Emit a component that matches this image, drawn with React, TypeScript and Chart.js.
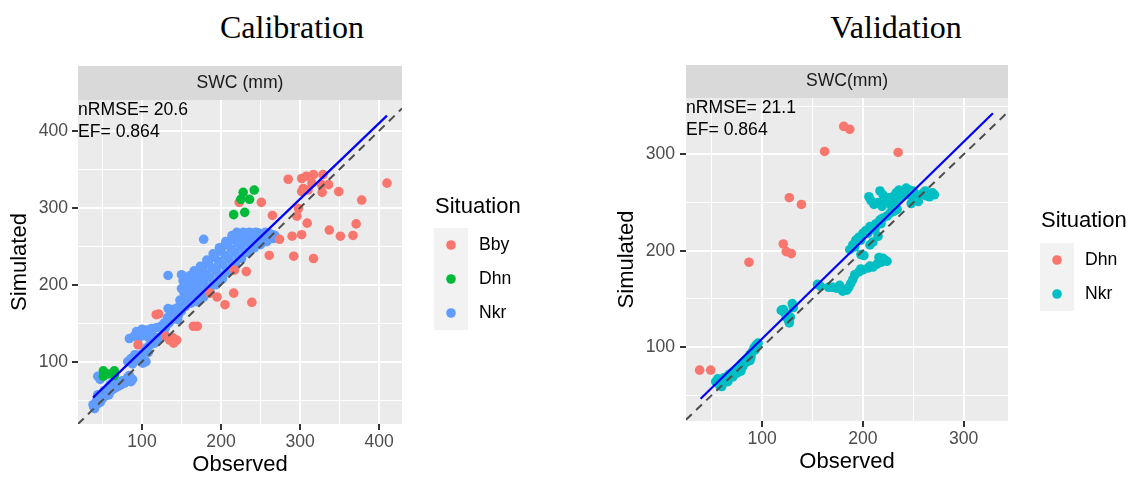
import { useEffect, useRef } from "react";
import { Chart, registerables } from "chart.js";

Chart.register(...registerables);

const SANS = "'Liberation Sans', Arial, Helvetica, sans-serif";
const SERIF = "'Liberation Serif', 'Times New Roman', serif";

type Pt = [number, number];

// ---------- Calibration: observed vs simulated SWC (mm) ----------
const calBby: Pt[] = [
  [285, 337], [302, 338], [308, 341], [317, 343], [315, 332], [304, 325], [310, 323],
  [329, 343], [327, 330], [336, 330], [302, 321], [328, 320], [349, 321], [378, 310],
  [410, 332], [251, 307], [223, 307], [265, 290], [298, 299], [296, 289], [309, 280],
  [337, 271], [371, 279], [351, 263], [367, 264], [302, 265], [290, 263], [274, 259],
  [261, 238], [292, 237], [317, 234], [232, 217], [217, 219], [186, 189], [195, 184],
  [216, 189], [205, 174], [239, 177], [118, 161], [121, 162], [165, 146], [170, 146],
  [135, 128], [140, 124], [144, 128], [139, 131], [95, 122], [130, 133],
];

const calDhn: Pt[] = [
  [216, 291], [230, 294], [225, 311], [228, 320], [236, 311], [242, 323],
  [51, 88], [65, 88], [51, 81], [65, 82], [57, 84],
];

const calNkr: Pt[] = [
  // low range
  [40, 39], [38, 44], [42, 48], [45, 52], [48, 50], [44, 57], [50, 55], [53, 59], [56, 61],
  [58, 57], [61, 63], [64, 66], [62, 72], [67, 69], [70, 68], [73, 70], [76, 74], [78, 72],
  [82, 80], [86, 74], [84, 78], [44, 81], [47, 77],
  [39, 41], [43, 45], [47, 47], [50, 52], [55, 56], [59, 60], [63, 64], [66, 66], [69, 70],
  [72, 72], [75, 75], [80, 76], [84, 82], [88, 77], [52, 62], [57, 66], [60, 70], [64, 73],
  [82, 100], [88, 97], [95, 102], [101, 98], [105, 100], [91, 109], [97, 109], [103, 113],
  [106, 118], [110, 122], [116, 124], [120, 128], [86, 104], [100, 104], [108, 112],
  [84, 130], [90, 133], [96, 131], [102, 134], [108, 132], [114, 133], [120, 131], [126, 134],
  [128, 137], [93, 139], [100, 142], [106, 141], [112, 143], [118, 144], [124, 146], [130, 145],
  [134, 150], [137, 154], [141, 156], [146, 160], [150, 166], [144, 164], [136, 160], [140, 168],
  [133, 169], [150, 167], [155, 172], [158, 176], [128, 150], [132, 157], [145, 155],
  // scattered
  [133, 212], [150, 213], [178, 259],
  // main band
  [145, 170], [155, 174], [162, 176], [170, 178], [178, 184], [186, 192], [194, 200], [202, 208],
  [210, 218], [218, 226], [226, 234], [234, 242], [242, 248], [250, 252], [258, 256], [266, 260],
  [152, 176], [159, 181], [166, 186], [174, 190], [182, 196], [190, 202], [198, 210], [206, 216],
  [214, 226], [222, 234], [230, 242], [238, 250], [246, 255], [254, 258], [262, 262],
  [148, 180], [155, 186], [162, 192], [170, 198], [178, 204], [186, 210], [194, 218], [202, 226],
  [210, 234], [218, 242], [226, 250], [234, 256], [242, 260], [250, 262], [258, 264], [266, 265],
  [153, 190], [159, 195], [166, 200], [173, 207], [181, 214], [189, 222], [197, 230], [205, 238],
  [213, 246], [221, 254], [229, 260], [237, 262], [245, 263],
  [150, 195], [156, 200], [163, 207], [170, 214], [177, 220], [184, 228], [191, 236], [198, 244],
  [205, 252], [212, 258], [218, 262], [226, 265], [234, 266], [242, 266], [250, 265],
  [155, 205], [161, 212], [168, 217], [176, 223], [184, 230], [192, 238], [200, 246], [208, 253],
  [216, 262], [224, 266], [232, 267], [240, 267], [248, 267], [254, 266], [260, 264],
  [152, 205], [158, 210], [166, 218], [174, 224], [182, 232], [190, 240], [198, 248], [206, 256],
  [214, 264], [220, 268], [228, 268], [236, 268], [244, 268], [256, 268], [262, 266], [268, 264],
  [264, 262],
];

const calFit = { slope: 0.985, intercept: 15.8, from: 38, to: 410 };
const calXRange: Pt = [19, 429];
const calYRange: Pt = [19, 440];
const calXTicks = [100, 200, 300, 400];
const calYTicks = [100, 200, 300, 400];
const calStats = ["nRMSE= 20.6", "EF= 0.864"];

// ---------- Validation ----------
const valDhn: Pt[] = [
  [38, 76], [49, 76], [87, 188], [121, 207], [124, 199], [129, 197], [127, 255],
  [139, 248], [162, 303], [181, 329], [187, 326], [235, 302],
];

const valNkr: Pt[] = [
  [54, 64], [56, 67], [58, 60], [60, 63], [62, 68], [64, 66], [66, 70], [68, 72], [70, 73],
  [72, 75], [74, 76], [76, 78], [78, 80], [80, 83], [82, 85], [84, 87], [86, 89], [88, 92],
  [90, 95], [92, 99], [94, 102], [96, 104], [60, 59], [75, 73], [84, 84],
  [57, 63], [61, 65], [65, 68], [69, 71], [73, 73], [77, 77], [81, 80], [85, 85], [89, 90],
  [93, 97], [66, 64], [71, 69], [79, 75], [88, 86],
  [119, 138], [122, 136], [124, 131], [126, 128], [127, 125], [130, 145], [131, 141], [128, 131],
  [125, 134], [121, 139],
  [155, 165], [158, 163], [170, 162], [174, 161], [177, 164], [180, 158], [184, 159], [186, 162],
  [190, 170], [192, 175], [196, 178], [200, 180], [205, 182], [210, 183], [214, 186], [218, 188],
  [222, 190], [216, 193], [220, 192], [224, 189], [166, 162], [188, 166], [198, 181], [207, 184],
  [187, 201], [190, 206], [193, 211], [196, 214], [200, 218], [203, 221], [207, 225], [210, 209],
  [213, 228], [215, 215], [217, 232], [220, 234], [224, 236], [227, 239], [231, 241], [234, 243],
  [207, 206], [198, 196], [201, 195], [192, 204], [198, 211], [205, 218], [212, 222], [218, 228],
  [206, 256], [208, 252], [211, 248], [215, 250], [217, 262], [220, 258], [223, 252], [226, 255],
  [230, 256], [233, 260], [236, 263], [239, 261], [243, 265], [246, 263], [248, 249], [250, 262],
  [253, 254], [255, 251], [257, 258], [260, 260], [263, 257], [266, 256], [269, 260], [271, 258],
  [245, 258], [238, 255], [228, 247], [219, 246], [233, 252], [241, 258], [251, 257], [262, 262],
];

const valFit = { slope: 1.022, intercept: 6.5, from: 39, to: 329 };
const valXRange: Pt = [24.5, 344];
const valYRange: Pt = [23.2, 358.5];
const valXTicks = [100, 200, 300];
const valYTicks = [100, 200, 300];
const valStats = ["nRMSE= 21.1", "EF= 0.864"];

const COLORS = {
  red: "#F8766D",
  green: "#00BA38",
  blue: "#619CFF",
  cyan: "#00BFC4",
};

const POINT_R = 4.8;

const toXY = (pts: Pt[]) => pts.map(([x, y]) => ({ x, y }));
const fitLine = (f: { slope: number; intercept: number; from: number; to: number }) => [
  { x: f.from, y: f.intercept + f.slope * f.from },
  { x: f.to, y: f.intercept + f.slope * f.to },
];

// Panel background, facet strip, stats text and "Situation" legend
const panelDecor = {
  id: "panelDecor",
  beforeDraw(chart: any, _args: any, o: any) {
    const { ctx, chartArea: a } = chart;
    ctx.save();
    ctx.fillStyle = "#EBEBEB";
    ctx.fillRect(a.left, a.top, a.right - a.left, a.bottom - a.top);
    ctx.fillStyle = "#D9D9D9";
    ctx.fillRect(a.left, a.top - o.stripHeight, a.right - a.left, o.stripHeight);
    ctx.fillStyle = "#1A1A1A";
    ctx.font = `17.6px ${SANS}`;
    ctx.textAlign = "center";
    ctx.textBaseline = "middle";
    ctx.fillText(o.strip, (a.left + a.right) / 2, a.top - o.stripHeight / 2);

    // legend
    const lx = a.right + o.legendGap;
    ctx.fillStyle = "#000000";
    ctx.font = `22px ${SANS}`;
    ctx.textAlign = "left";
    ctx.fillText(o.legendTitle, lx + 1, a.top + o.legendTitleY);
    const keyTop = a.top + o.legendKeysY;
    const key = 34;
    ctx.fillStyle = "#F2F2F2";
    ctx.fillRect(lx, keyTop, key, key * o.legendItems.length);
    o.legendItems.forEach((it: { label: string; color: string }, i: number) => {
      const cy = keyTop + key * i + key / 2;
      ctx.fillStyle = it.color;
      ctx.beginPath();
      ctx.arc(lx + key / 2, cy, POINT_R, 0, Math.PI * 2);
      ctx.fill();
      ctx.fillStyle = "#000000";
      ctx.font = `17.6px ${SANS}`;
      ctx.fillText(it.label, lx + key + 11, cy);
    });
    ctx.restore();
  },
  afterDraw(chart: any, _args: any, o: any) {
    const { ctx, chartArea: a } = chart;
    ctx.save();
    ctx.fillStyle = "#000000";
    ctx.font = `17.6px ${SANS}`;
    ctx.textAlign = "left";
    ctx.textBaseline = "middle";
    o.stats.forEach((s: string, i: number) => {
      ctx.fillText(s, a.left, a.top + o.statsY[i]);
    });
    ctx.restore();
  },
};

interface PanelSpec {
  series: { label: string; pts: Pt[]; color: string }[];
  fit: { slope: number; intercept: number; from: number; to: number };
  xRange: Pt;
  yRange: Pt;
  xTicks: number[];
  yTicks: number[];
  stats: string[];
  statsY: number[];
  strip: string;
  stripHeight: number;
  legendTitleY: number;
  legendKeysY: number;
  padding: { left: number; top: number; right: number; bottom: number };
  yAxisWidth: number;
  xAxisHeight: number;
  yTitlePad: number;
  xTitlePad: number;
  yTickPad: number;
}

function buildConfig(p: PanelSpec): any {
  const axis = (range: Pt, majors: number[], title: string, isX: boolean) => ({
    type: "linear",
    min: range[0],
    max: range[1],
    afterFit: (s: any) => {
      if (isX) s.height = p.xAxisHeight;
      else s.width = p.yAxisWidth;
    },
    border: { display: false },
    grid: {
      color: "#FFFFFF",
      lineWidth: (c: any) => (c.tick && majors.includes(c.tick.value) ? 2 : 1),
      tickColor: (c: any) =>
        c.tick && majors.includes(c.tick.value) ? "#333333" : "rgba(0,0,0,0)",
      tickLength: 6,
      tickWidth: 2,
    },
    ticks: {
      stepSize: 50,
      includeBounds: false,
      autoSkip: false,
      maxRotation: 0,
      padding: isX ? 2 : p.yTickPad,
      color: "#4D4D4D",
      font: { family: SANS, size: 17.6 },
      callback: (v: number) => (majors.includes(v) ? String(v) : ""),
    },
    title: {
      display: true,
      text: title,
      color: "#000000",
      font: { family: SANS, size: 22 },
      padding: isX ? { top: 0, bottom: p.xTitlePad } : { top: p.yTitlePad, bottom: 0 },
    },
  });

  // 1:1 reference line across the observed axis range
  const diag = [
    { x: p.xRange[0], y: p.xRange[0] },
    { x: p.xRange[1], y: p.xRange[1] },
  ];

  return {
    type: "scatter",
    data: {
      datasets: [
        {
          label: "fit",
          data: fitLine(p.fit),
          showLine: true,
          borderColor: "#0000FF",
          borderWidth: 2.2,
          pointRadius: 0,
          order: 0,
        },
        {
          label: "1:1",
          data: diag,
          showLine: true,
          borderColor: "#4D4D4D",
          borderWidth: 2,
          borderDash: [8, 6],
          pointRadius: 0,
          order: 1,
        },
        ...p.series.map((s, i) => ({
          label: s.label,
          data: toXY(s.pts),
          backgroundColor: s.color,
          pointBackgroundColor: s.color,
          pointBorderWidth: 0,
          pointRadius: POINT_R,
          order: 2 + i,
        })),
      ],
    },
    options: {
      animation: false,
      responsive: false,
      events: [],
      layout: { padding: p.padding },
      scales: {
        x: axis(p.xRange, p.xTicks, "Observed", true),
        y: axis(p.yRange, p.yTicks, "Simulated", false),
      },
      plugins: {
        legend: { display: false },
        tooltip: { enabled: false },
        panelDecor: {
          strip: p.strip,
          stripHeight: p.stripHeight,
          stats: p.stats,
          statsY: p.statsY,
          legendTitle: "Situation",
          legendGap: 32,
          legendTitleY: p.legendTitleY,
          legendKeysY: p.legendKeysY,
          legendItems: p.series
            .slice()
            .sort((a, b) => a.label.localeCompare(b.label))
            .map((s) => ({ label: s.label, color: s.color })),
        },
      },
    },
    plugins: [panelDecor],
  };
}

const calibration: PanelSpec = {
  series: [
    { label: "Dhn", pts: calDhn, color: COLORS.green },
    { label: "Bby", pts: calBby, color: COLORS.red },
    { label: "Nkr", pts: calNkr, color: COLORS.blue },
  ],
  fit: calFit,
  xRange: calXRange,
  yRange: calYRange,
  xTicks: calXTicks,
  yTicks: calYTicks,
  stats: calStats,
  statsY: [10, 31.7],
  strip: "SWC (mm)",
  stripHeight: 34,
  legendTitleY: 107,
  legendKeysY: 128,
  padding: { left: 0, top: 40, right: 158, bottom: 0 },
  yAxisWidth: 78,
  xAxisHeight: 54,
  yTitlePad: 7,
  xTitlePad: 0,
  yTickPad: 4,
};

const validation: PanelSpec = {
  series: [
    { label: "Dhn", pts: valDhn, color: COLORS.red },
    { label: "Nkr", pts: valNkr, color: COLORS.cyan },
  ],
  fit: valFit,
  xRange: valXRange,
  yRange: valYRange,
  xTicks: valXTicks,
  yTicks: valYTicks,
  stats: valStats,
  statsY: [10.5, 32],
  strip: "SWC(mm)",
  stripHeight: 33,
  legendTitleY: 123,
  legendKeysY: 145,
  padding: { left: 50, top: 38, right: 120, bottom: 0 },
  yAxisWidth: 76,
  xAxisHeight: 57,
  yTitlePad: 4,
  xTitlePad: 3,
  yTickPad: 5,
};

function Panel({ spec, left, width }: { spec: PanelSpec; left: number; width: number }) {
  const ref = useRef<HTMLCanvasElement>(null);
  useEffect(() => {
    const chart = new Chart(ref.current as HTMLCanvasElement, buildConfig(spec));
    return () => chart.destroy();
  }, [spec]);
  return (
    <canvas
      ref={ref}
      width={width}
      height={418}
      style={{ position: "absolute", left, top: 60, width, height: 418 }}
    />
  );
}

const titleStyle = (center: number): React.CSSProperties => ({
  position: "absolute",
  left: center - 150,
  width: 300,
  top: 11,
  textAlign: "center",
  fontFamily: SERIF,
  fontSize: 32,
  lineHeight: "32px",
  color: "#000000",
});

export default function App() {
  return (
    <div
      style={{
        position: "absolute",
        left: 0,
        top: 0,
        width: 1128,
        height: 478,
        background: "#FFFFFF",
        overflow: "hidden",
      }}
    >
      <div style={titleStyle(292)}>Calibration</div>
      <div style={titleStyle(896)}>Validation</div>
      <Panel spec={calibration} left={0} width={560} />
      <Panel spec={validation} left={560} width={568} />
    </div>
  );
}
